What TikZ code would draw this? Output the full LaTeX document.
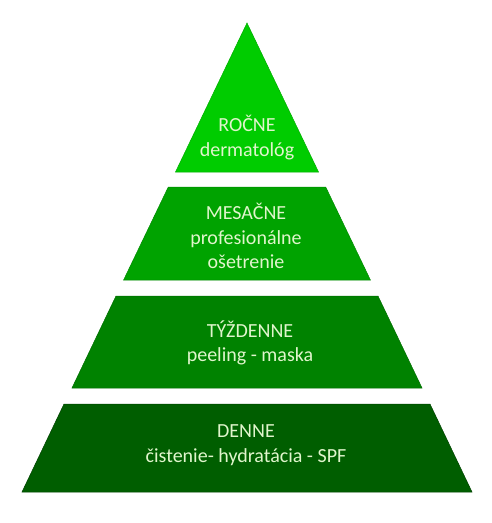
\documentclass[tikz,border=0pt]{standalone}
\usepackage{fontspec}
\setmainfont{Carlito}
\definecolor{levelOne}{HTML}{00CC00}
\definecolor{levelTwo}{HTML}{00A300}
\definecolor{levelThree}{HTML}{008200}
\definecolor{levelFour}{HTML}{005E00}
\definecolor{paleText}{HTML}{E0F5CC}

\begin{document}
\begin{tikzpicture}[x=1pt, y=-1pt,
  every node/.style={font=\fontsize{20}{24.5}\selectfont, text=paleText, align=center},
  band/.style={line width=0.5pt}]
  \useasboundingbox (0,0) rectangle (492,523);

  % Top: yearly
  \filldraw[band, fill=levelOne, draw=levelOne!85!black]
    (247,23) -- (318.5,172) -- (175.5,172) -- cycle;
  \node (rocne) at (247,137.5) {ROČNE\\dermatológ};

  % Monthly
  \filldraw[band, fill=levelTwo, draw=levelTwo!85!black]
    (168.3,187) -- (325.7,187) -- (370.4,280) -- (123.6,280) -- cycle;
  \node (mesacne) at (246,236) {MESAČNE\\profesionálne\\ošetrenie};

  % Weekly
  \filldraw[band, fill=levelThree, draw=levelThree!85!black]
    (116,296) -- (378,296) -- (422,388) -- (72,388) -- cycle;
  \node (tyzdenne) at (250,343) {TÝŽDENNE\\peeling - maska};

  % Daily
  \filldraw[band, fill=levelFour, draw=levelFour!70!black]
    (64,404) -- (430,404) -- (472,492) -- (22,492) -- cycle;
  \node (denne) at (246,445) {DENNE\\čistenie- hydratácia - SPF};
\end{tikzpicture}
\end{document}
